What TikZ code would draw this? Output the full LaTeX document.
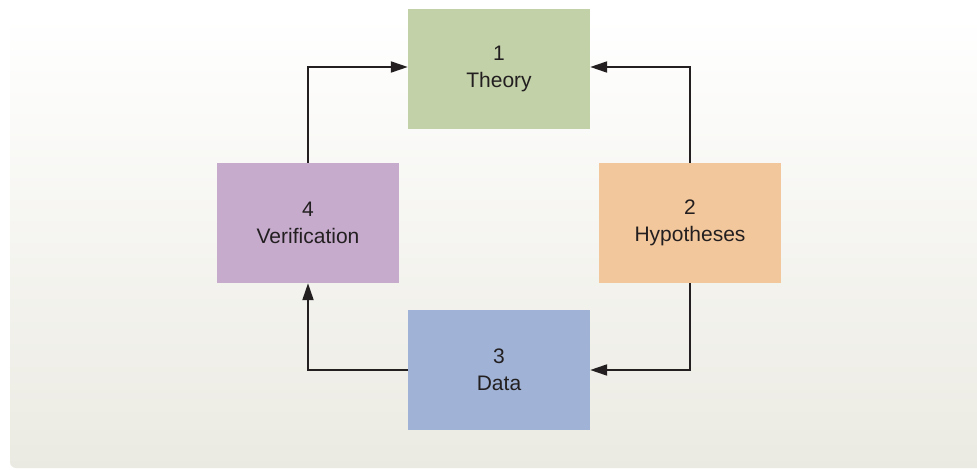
\documentclass[tikz,border=0pt]{standalone}
\usepackage{fontspec}
\setmainfont{Liberation Sans}
\usetikzlibrary{arrows.meta}
\definecolor{theoryc}{HTML}{C2D1A8}
\definecolor{hypoc}{HTML}{F3C79C}
\definecolor{datac}{HTML}{A0B3D6}
\definecolor{verifc}{HTML}{C6ABCD}
\definecolor{panelbot}{HTML}{EBEAE2}
\definecolor{linec}{HTML}{231F20}
\tikzset{
  stage/.style={minimum width=182pt, minimum height=120pt, inner sep=0pt,
    align=center, font=\fontsize{21}{27}\selectfont, text=linec},
  flow/.style={draw=linec, line width=2pt,
    -{Triangle[length=17pt,width=11pt]}},
}
\begin{document}
\begin{tikzpicture}[x=1pt,y=-1pt]
\useasboundingbox (0,0) rectangle (977,470);
\fill[white] (0,0) rectangle (977,470);
% background panel
\shade[top color=white, bottom color=panelbot, rounded corners=6pt]
  (10,17) rectangle (990,468);
% stages
\node[stage, fill=theoryc] (theory) at (499,69) {1\\Theory};
\node[stage, fill=hypoc] (hypo) at (690,223) {2\\Hypotheses};
\node[stage, fill=datac] (data) at (499,370) {3\\Data};
\node[stage, fill=verifc] (verif) at (308,223) {4\\Verification};
% cycle connectors
\draw[flow] (hypo.north) |- ([yshift=2pt]theory.east);
\draw[flow] (hypo.south) |- (data.east);
\draw[flow] (data.west) -| (verif.south);
\draw[flow] (verif.north) |- ([yshift=2pt]theory.west);
\end{tikzpicture}
\end{document}
